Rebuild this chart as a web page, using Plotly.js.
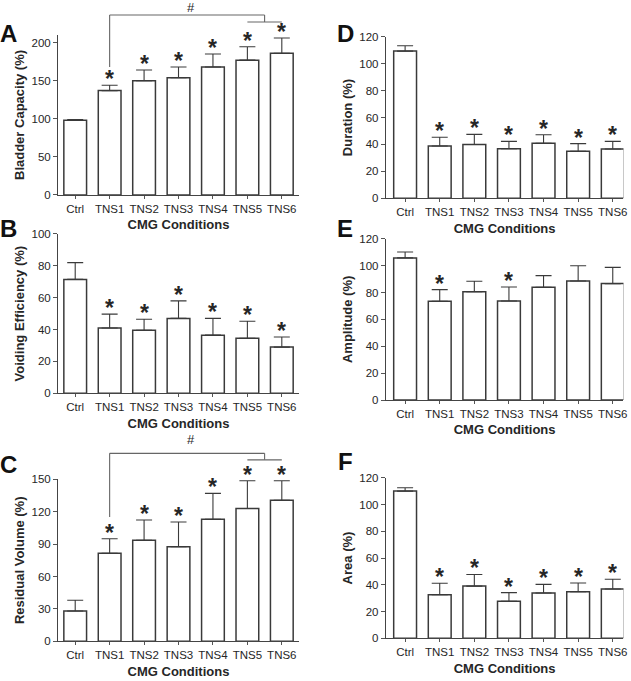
<!DOCTYPE html>
<html>
<head>
<meta charset="utf-8">
<script src="https://cdn.plot.ly/plotly-3.0.1.min.js"></script>
<style>
  body { margin: 0; background: #fff; }
  #chart { width: 631px; height: 681px; }
</style>
</head>
<body>
<div id="chart"></div>
<script>
'use strict';

var categories = ['Ctrl', 'TNS1', 'TNS2', 'TNS3', 'TNS4', 'TNS5', 'TNS6'];

var capacity = [98, 137, 150, 154, 168, 177, 186];
var capacityErr = [1, 7, 14, 14, 17, 17.5, 20];
var capacityStar = [0, 1, 1, 1, 1, 1, 1];

var efficiency = [71.5, 41, 39.5, 47, 36.5, 34.5, 29];
var efficiencyErr = [10.5, 8.7, 7, 11, 10.5, 10.7, 6.3];
var efficiencyStar = [0, 1, 1, 1, 1, 1, 1];

var residual = [28, 81.5, 93.5, 87.5, 113, 123, 130.5];
var residualErr = [10, 13.5, 18.8, 23, 24, 25.7, 18.2];
var residualStar = [0, 1, 1, 1, 1, 1, 1];

var duration = [109.3, 38.8, 40, 36.8, 40.8, 35, 36.6];
var durationErr = [4, 6.5, 7.5, 5.5, 6.4, 5.6, 5.7];
var durationStar = [0, 1, 1, 1, 1, 1, 1];

var amplitude = [105.7, 73.4, 80.6, 73.7, 83.8, 88.5, 86.6];
var amplitudeErr = [4.4, 8.7, 7.7, 10.4, 8.7, 11.4, 12.1];
var amplitudeStar = [0, 1, 0, 1, 0, 0, 0];

var area = [110, 32.6, 39, 27.6, 33.8, 34.8, 36.8];
var areaErr = [2.5, 8.5, 8.7, 6.5, 6.5, 6.5, 7.3];
var areaStar = [0, 1, 1, 1, 1, 1, 1];

var ink = '#262626';
var fontFamily = 'Liberation Sans, Arial, sans-serif';

var panels = [
  { letter: 'A', title: 'Bladder Capacity (%)', y: capacity, err: capacityErr, star: capacityStar,
    range: [0, 210], dtick: 50, xdom: [0.0919, 0.4739], ydom: [0.7137, 0.9486],
    letterPos: [0.0135, 0.951],
    bracket: { top: 1.125, low: 0.8, step: 1.081, hash: 1.17 } },
  { letter: 'B', title: 'Voiding Efficiency (%)', y: efficiency, err: efficiencyErr, star: efficiencyStar,
    range: [0, 100], dtick: 20, xdom: [0.0919, 0.4739], ydom: [0.4225, 0.6564],
    letterPos: [0.0135, 0.664] },
  { letter: 'C', title: 'Residual Volume (%)', y: residual, err: residualErr, star: residualStar,
    range: [0, 150], dtick: 30, xdom: [0.0919, 0.4739], ydom: [0.0583, 0.2962],
    letterPos: [0.0135, 0.3186],
    bracket: { top: 1.16, low: 0.767, step: 1.12, hash: 1.243 } },
  { letter: 'D', title: 'Duration (%)', y: duration, err: durationErr, star: durationStar,
    range: [0, 120], dtick: 20, xdom: [0.6113, 0.9881], ydom: [0.7088, 0.9461],
    letterPos: [0.5468, 0.951] },
  { letter: 'E', title: 'Amplitude (%)', y: amplitude, err: amplitudeErr, star: amplitudeStar,
    range: [0, 120], dtick: 20, xdom: [0.6113, 0.9881], ydom: [0.4126, 0.6495],
    letterPos: [0.5468, 0.664] },
  { letter: 'F', title: 'Area (%)', y: area, err: areaErr, star: areaStar,
    range: [0, 120], dtick: 20, xdom: [0.6113, 0.9881], ydom: [0.0627, 0.2985],
    letterPos: [0.5468, 0.3223] }
];

function axisSuffix(i) {
  return i === 0 ? '' : String(i + 1);
}

function buildChart() {
  var data = [];
  var layout = {
    width: 631,
    height: 681,
    margin: { l: 0, r: 0, t: 0, b: 0 },
    paper_bgcolor: '#fff',
    plot_bgcolor: '#fff',
    showlegend: false,
    font: { family: fontFamily, color: ink, size: 11.5 },
    annotations: [],
    shapes: []
  };

  panels.forEach(function (p, i) {
    var s = axisSuffix(i);
    var xName = 'x' + s;
    var yName = 'y' + s;
    var rightCol = i >= 3;
    var xIdx = categories.map(function (c, j) { return j; });

    data.push({
      type: 'bar',
      x: xIdx,
      y: p.y,
      xaxis: xName,
      yaxis: yName,
      width: 0.66,
      marker: { color: '#fff', line: { color: '#3a3a3a', width: 1.5 } },
      error_y: {
        type: 'data',
        symmetric: false,
        array: p.err,
        arrayminus: p.err.map(function () { return 0; }),
        color: '#3a3a3a',
        thickness: 1.1,
        width: 8
      },
      hoverinfo: 'none'
    });

    layout['xaxis' + s] = {
      domain: p.xdom,
      anchor: yName,
      range: rightCol ? [-0.56, 6.31] : [-0.5, 6.5],
      tickmode: 'array',
      tickvals: xIdx,
      ticktext: categories,
      ticks: 'outside',
      ticklen: 3,
      tickcolor: '#555',
      showline: true,
      linecolor: '#444',
      linewidth: 1,
      showgrid: false,
      zeroline: false,
      fixedrange: true,
      tickfont: { size: 11.5, color: ink },
      title: { text: 'CMG Conditions', font: { size: 13, weight: 'bold', color: ink }, standoff: 6 }
    };

    layout['yaxis' + s] = {
      domain: p.ydom,
      anchor: xName,
      range: p.range,
      dtick: p.dtick,
      ticks: 'outside',
      ticklen: 4,
      tickcolor: '#555',
      showline: true,
      linecolor: '#444',
      linewidth: 1,
      showgrid: false,
      zeroline: false,
      fixedrange: true,
      tickfont: { size: 11.5, color: ink },
      title: { text: p.title, font: { size: 13, weight: 'bold', color: ink }, standoff: 3 }
    };

    // significance stars above the error bars
    p.star.forEach(function (flag, k) {
      if (!flag) return;
      layout.annotations.push({
        xref: xName, yref: yName,
        x: k, y: p.y[k] + p.err[k],
        text: '*', showarrow: false,
        yanchor: 'bottom', yshift: -9,
        font: { size: 23, weight: 'bold', color: ink }
      });
    });

    // panel letter
    layout.annotations.push({
      xref: 'paper', yref: 'paper',
      x: p.letterPos[0], y: p.letterPos[1],
      text: p.letter, showarrow: false,
      xanchor: 'center', yanchor: 'middle',
      font: { size: 24, weight: 'bold', color: '#111' }
    });

    // bracket TNS1 vs TNS5/TNS6
    if (p.bracket) {
      var b = p.bracket;
      var yd = yName + ' domain';
      var lineStyle = { color: '#666', width: 1.1 };
      layout.shapes.push(
        { type: 'line', xref: xName, yref: yd, x0: 1, x1: 5.5, y0: b.top, y1: b.top, line: lineStyle },
        { type: 'line', xref: xName, yref: yd, x0: 1, x1: 1, y0: b.top, y1: b.low, line: lineStyle },
        { type: 'line', xref: xName, yref: yd, x0: 5.5, x1: 5.5, y0: b.top, y1: b.step, line: lineStyle },
        { type: 'line', xref: xName, yref: yd, x0: 5, x1: 6, y0: b.step, y1: b.step, line: lineStyle }
      );
      layout.annotations.push({
        xref: xName, yref: yd,
        x: 3.35, y: b.hash,
        text: '#', showarrow: false,
        yanchor: 'middle',
        font: { size: 13, color: ink }
      });
    }
  });

  Plotly.newPlot('chart', data, layout, { staticPlot: true, displayModeBar: false });
}

buildChart();
</script>
</body>
</html>
